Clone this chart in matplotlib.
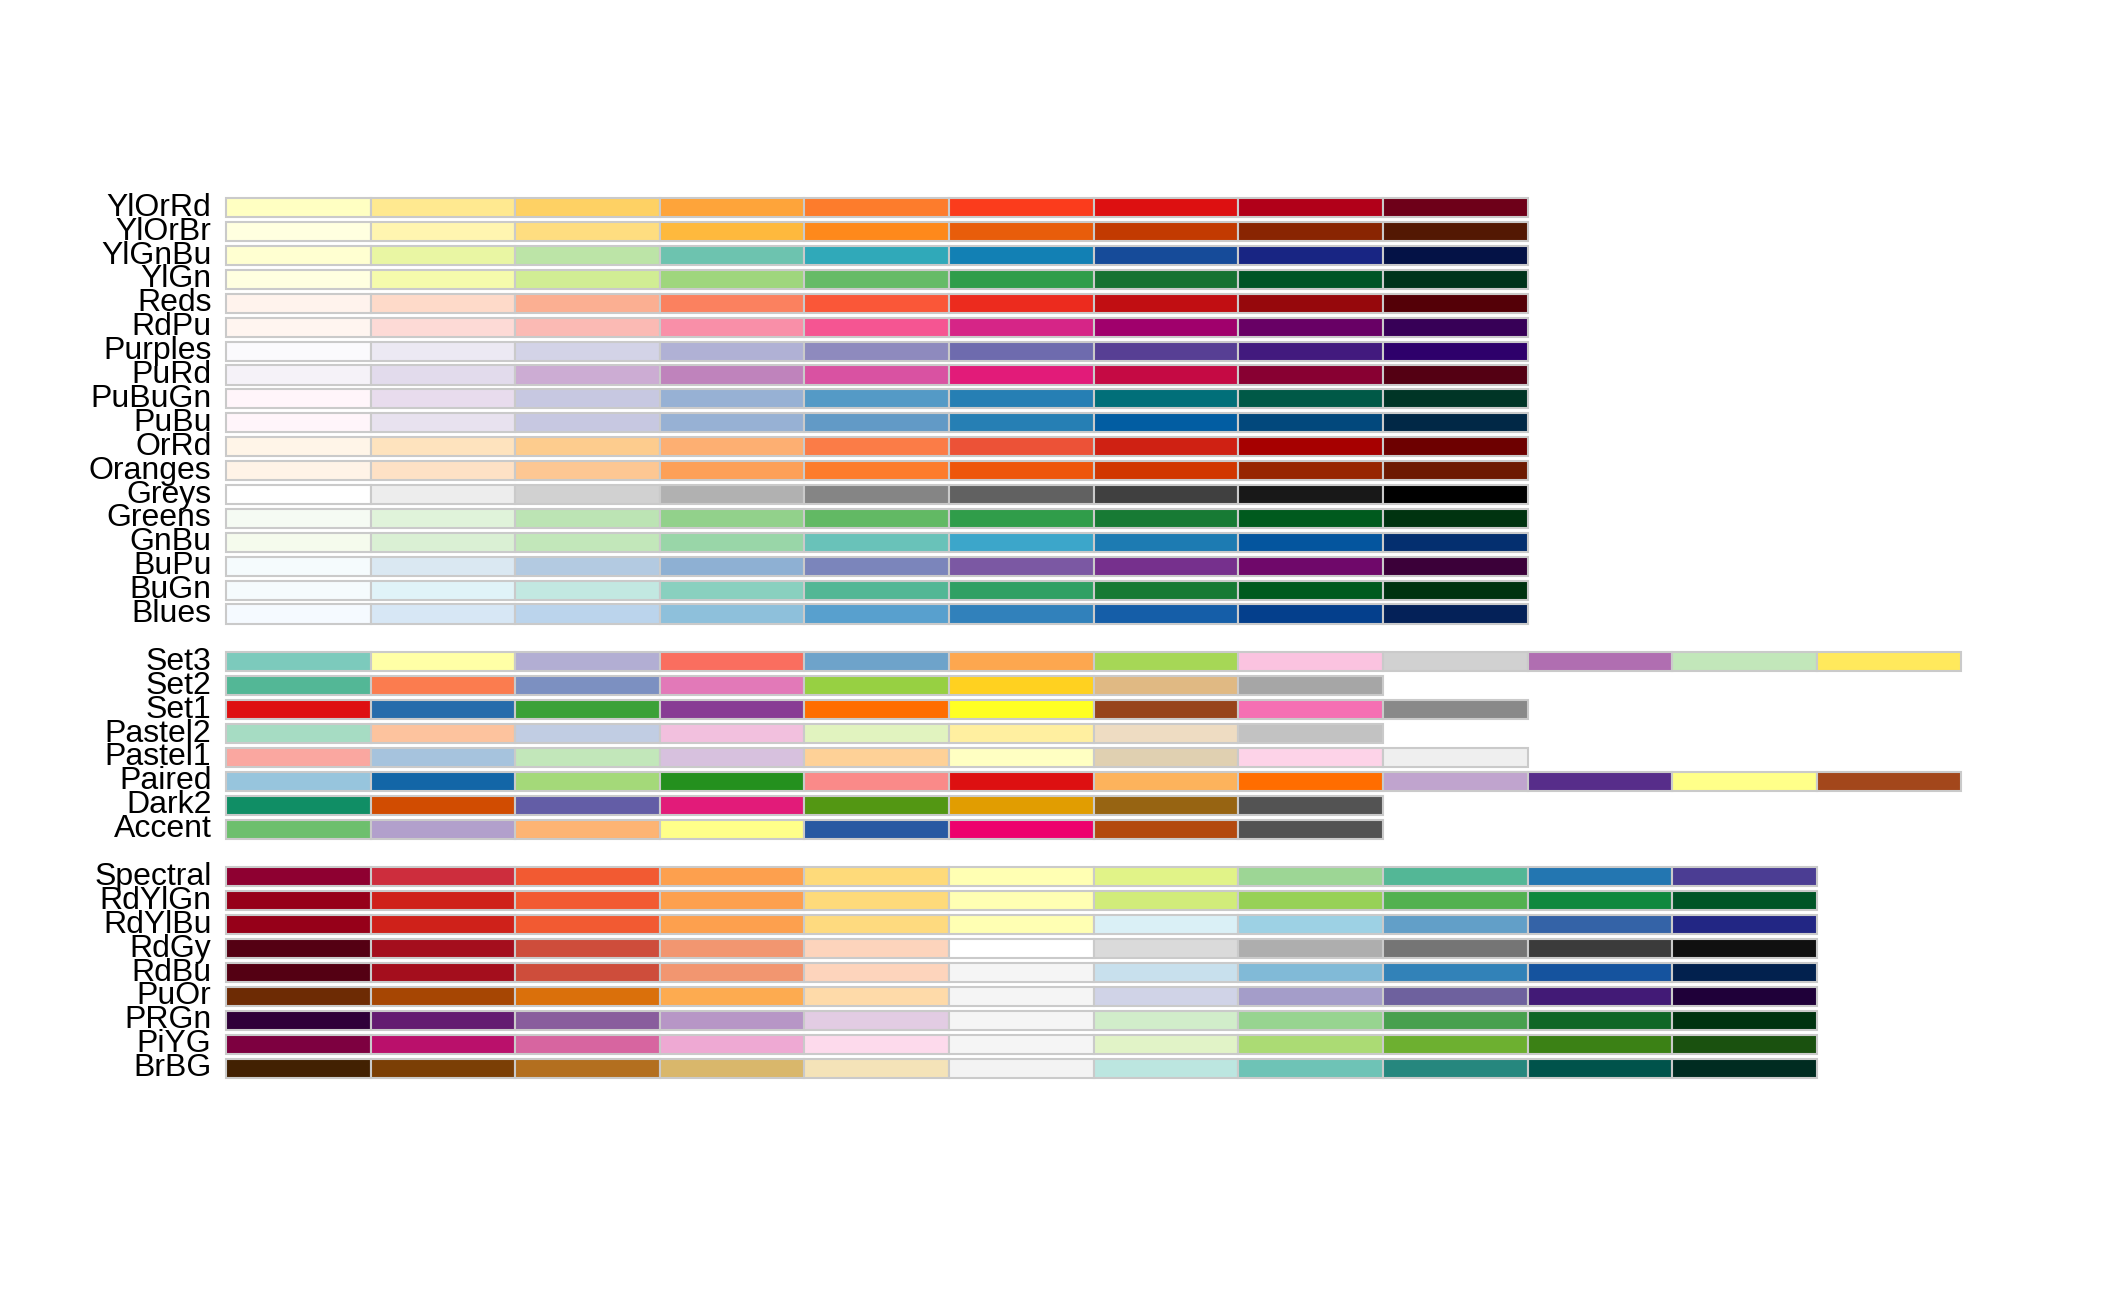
import numpy as np
import matplotlib
matplotlib.use("Agg")
import matplotlib.pyplot as plt
from matplotlib.colors import to_rgb

# ColorBrewer palettes, top to bottom as drawn
YlOrRd = ["#FFFFCC", "#FFEDA0", "#FED976", "#FEB24C", "#FD8D3C", "#FC4E2A", "#E31A1C", "#BD0026", "#800026"]
YlOrBr = ["#FFFFE5", "#FFF7BC", "#FEE391", "#FEC44F", "#FE9929", "#EC7014", "#CC4C02", "#993404", "#662506"]
YlGnBu = ["#FFFFD9", "#EDF8B1", "#C7E9B4", "#7FCDBB", "#41B6C4", "#1D91C0", "#225EA8", "#253494", "#081D58"]
YlGn = ["#FFFFE5", "#F7FCB9", "#D9F0A3", "#ADDD8E", "#78C679", "#41AB5D", "#238443", "#006837", "#004529"]
Reds = ["#FFF5F0", "#FEE0D2", "#FCBBA1", "#FC9272", "#FB6A4A", "#EF3B2C", "#CB181D", "#A50F15", "#67000D"]
RdPu = ["#FFF7F3", "#FDE0DD", "#FCC5C0", "#FA9FB5", "#F768A1", "#DD3497", "#AE017E", "#7A0177", "#49006A"]
Purples = ["#FCFBFD", "#EFEDF5", "#DADAEB", "#BCBDDC", "#9E9AC8", "#807DBA", "#6A51A3", "#54278F", "#3F007D"]
PuRd = ["#F7F4F9", "#E7E1EF", "#D4B9DA", "#C994C7", "#DF65B0", "#E7298A", "#CE1256", "#980043", "#67001F"]
PuBuGn = ["#FFF7FB", "#ECE2F0", "#D0D1E6", "#A6BDDB", "#67A9CF", "#3690C0", "#02818A", "#016C59", "#014636"]
PuBu = ["#FFF7FB", "#ECE7F2", "#D0D1E6", "#A6BDDB", "#74A9CF", "#3690C0", "#0570B0", "#045A8D", "#023858"]
OrRd = ["#FFF7EC", "#FEE8C8", "#FDD49E", "#FDBB84", "#FC8D59", "#EF6548", "#D7301F", "#B30000", "#7F0000"]
Oranges = ["#FFF5EB", "#FEE6CE", "#FDD0A2", "#FDAE6B", "#FD8D3C", "#F16913", "#D94801", "#A63603", "#7F2704"]
Greys = ["#FFFFFF", "#F0F0F0", "#D9D9D9", "#BDBDBD", "#969696", "#737373", "#525252", "#252525", "#000000"]
Greens = ["#F7FCF5", "#E5F5E0", "#C7E9C0", "#A1D99B", "#74C476", "#41AB5D", "#238B45", "#006D2C", "#00441B"]
GnBu = ["#F7FCF0", "#E0F3DB", "#CCEBC5", "#A8DDB5", "#7BCCC4", "#4EB3D3", "#2B8CBE", "#0868AC", "#084081"]
BuPu = ["#F7FCFD", "#E0ECF4", "#BFD3E6", "#9EBCDA", "#8C96C6", "#8C6BB1", "#88419D", "#810F7C", "#4D004B"]
BuGn = ["#F7FCFD", "#E5F5F9", "#CCECE6", "#99D8C9", "#66C2A4", "#41AE76", "#238B45", "#006D2C", "#00441B"]
Blues = ["#F7FBFF", "#DEEBF7", "#C6DBEF", "#9ECAE1", "#6BAED6", "#4292C6", "#2171B5", "#08519C", "#08306B"]

Set3 = ["#8DD3C7", "#FFFFB3", "#BEBADA", "#FB8072", "#80B1D3", "#FDB462", "#B3DE69", "#FCCDE5", "#D9D9D9", "#BC80BD", "#CCEBC5", "#FFED6F"]
Set2 = ["#66C2A5", "#FC8D62", "#8DA0CB", "#E78AC3", "#A6D854", "#FFD92F", "#E5C494", "#B3B3B3"]
Set1 = ["#E41A1C", "#377EB8", "#4DAF4A", "#984EA3", "#FF7F00", "#FFFF33", "#A65628", "#F781BF", "#999999"]
Pastel2 = ["#B3E2CD", "#FDCDAC", "#CBD5E8", "#F4CAE4", "#E6F5C9", "#FFF2AE", "#F1E2CC", "#CCCCCC"]
Pastel1 = ["#FBB4AE", "#B3CDE3", "#CCEBC5", "#DECBE4", "#FED9A6", "#FFFFCC", "#E5D8BD", "#FDDAEC", "#F2F2F2"]
Paired = ["#A6CEE3", "#1F78B4", "#B2DF8A", "#33A02C", "#FB9A99", "#E31A1C", "#FDBF6F", "#FF7F00", "#CAB2D6", "#6A3D9A", "#FFFF99", "#B15928"]
Dark2 = ["#1B9E77", "#D95F02", "#7570B3", "#E7298A", "#66A61E", "#E6AB02", "#A6761D", "#666666"]
Accent = ["#7FC97F", "#BEAED4", "#FDC086", "#FFFF99", "#386CB0", "#F0027F", "#BF5B17", "#666666"]

Spectral = ["#9E0142", "#D53E4F", "#F46D43", "#FDAE61", "#FEE08B", "#FFFFBF", "#E6F598", "#ABDDA4", "#66C2A5", "#3288BD", "#5E4FA2"]
RdYlGn = ["#A50026", "#D73027", "#F46D43", "#FDAE61", "#FEE08B", "#FFFFBF", "#D9EF8B", "#A6D96A", "#66BD63", "#1A9850", "#006837"]
RdYlBu = ["#A50026", "#D73027", "#F46D43", "#FDAE61", "#FEE090", "#FFFFBF", "#E0F3F8", "#ABD9E9", "#74ADD1", "#4575B4", "#313695"]
RdGy = ["#67001F", "#B2182B", "#D6604D", "#F4A582", "#FDDBC7", "#FFFFFF", "#E0E0E0", "#BABABA", "#878787", "#4D4D4D", "#1A1A1A"]
RdBu = ["#67001F", "#B2182B", "#D6604D", "#F4A582", "#FDDBC7", "#F7F7F7", "#D1E5F0", "#92C5DE", "#4393C3", "#2166AC", "#053061"]
PuOr = ["#7F3B08", "#B35806", "#E08214", "#FDB863", "#FEE0B6", "#F7F7F7", "#D8DAEB", "#B2ABD2", "#8073AC", "#542788", "#2D004B"]
PRGn = ["#40004B", "#762A83", "#9970AB", "#C2A5CF", "#E7D4E8", "#F7F7F7", "#D9F0D3", "#A6DBA0", "#5AAE61", "#1B7837", "#00441B"]
PiYG = ["#8E0152", "#C51B7D", "#DE77AE", "#F1B6DA", "#FDE0EF", "#F7F7F7", "#E6F5D0", "#B8E186", "#7FBC41", "#4D9221", "#276419"]
BrBG = ["#543005", "#8C510A", "#BF812D", "#DFC27D", "#F6E8C3", "#F5F5F5", "#C7EAE5", "#80CDC1", "#35978F", "#01665E", "#003C30"]

# bottom to top; None marks the gap between groups
rows = [
    ("BrBG", BrBG), ("PiYG", PiYG), ("PRGn", PRGn), ("PuOr", PuOr), ("RdBu", RdBu),
    ("RdGy", RdGy), ("RdYlBu", RdYlBu), ("RdYlGn", RdYlGn), ("Spectral", Spectral),
    None,
    ("Accent", Accent), ("Dark2", Dark2), ("Paired", Paired), ("Pastel1", Pastel1),
    ("Pastel2", Pastel2), ("Set1", Set1), ("Set2", Set2), ("Set3", Set3),
    None,
    ("Blues", Blues), ("BuGn", BuGn), ("BuPu", BuPu), ("GnBu", GnBu), ("Greens", Greens),
    ("Greys", Greys), ("Oranges", Oranges), ("OrRd", OrRd), ("PuBu", PuBu),
    ("PuBuGn", PuBuGn), ("PuRd", PuRd), ("Purples", Purples), ("RdPu", RdPu),
    ("Reds", Reds), ("YlGn", YlGn), ("YlGnBu", YlGnBu), ("YlOrBr", YlOrBr), ("YlOrRd", YlOrRd),
]


def shade(c, gamma=1.22):
    # the reference was saved through a colour profile that darkens mid tones
    return tuple(v ** gamma for v in to_rgb(c))


plt.rcParams["font.family"] = ["Liberation Sans", "DejaVu Sans"]

fig = plt.figure(figsize=(21.12, 13.05), dpi=100)
ax = fig.add_axes([0.0741, 0.1471, 0.8875, 0.7318])

nr = len(rows)
for i, row in enumerate(rows, start=1):
    if row is None:
        continue
    name, cols = row
    n = len(cols)
    ax.barh(np.full(n, i - 1.0), np.ones(n), height=0.8, left=np.arange(n),
            align="edge", color=[shade(c) for c in cols],
            edgecolor=shade("#D3D3D3"), linewidth=1.5)
    ax.text(-0.1, i - 0.6, name, ha="right", va="center", fontsize=23,
            clip_on=False)

ax.set_xlim(-0.48, 12.48)
ax.set_ylim(-1.48, nr + 1.48)
ax.axis("off")

fig.savefig("out.png", dpi=100, facecolor="white")
